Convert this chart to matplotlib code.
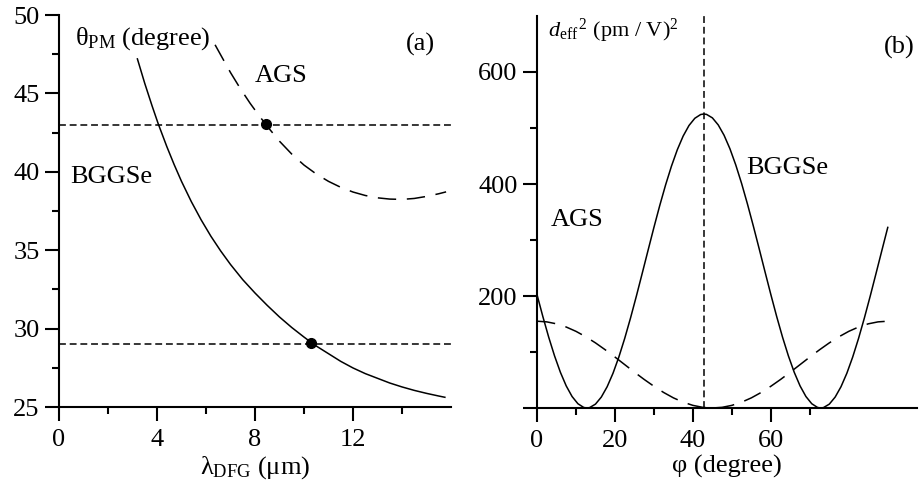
import matplotlib
matplotlib.use("Agg")
import matplotlib.pyplot as plt

plt.rcParams["font.family"] = ["Liberation Serif", "DejaVu Serif"]
plt.rcParams["mathtext.fontset"] = "custom"
plt.rcParams["mathtext.rm"] = "Liberation Serif"
plt.rcParams["mathtext.it"] = "Liberation Serif:italic"

# (a) phase-matching angle vs DFG wavelength
bggse_lam = [3.2, 3.5, 3.8, 4.05, 4.4, 4.7, 5.0, 5.4, 5.8, 6.2, 6.6, 7.0, 7.5,
             8.0, 8.5, 9.0, 9.5, 10.0, 10.3, 10.5, 11.0, 11.5, 12.0, 12.5, 13.0,
             13.5, 14.0, 14.5, 15.0, 15.5, 15.75]
bggse_theta = [47.2, 45.64, 44.2, 43.06, 41.61, 40.46, 39.39, 38.1, 36.94, 35.89,
               34.95, 34.09, 33.12, 32.27, 31.48, 30.74, 30.07, 29.46, 29.11,
               28.89, 28.4, 27.91, 27.49, 27.13, 26.83, 26.53, 26.28, 26.06,
               25.87, 25.7, 25.62]
ags_lam = [6.37, 6.7, 7.0, 7.4, 7.8, 8.2, 8.43, 8.6, 9.0, 9.5, 10.0, 10.5, 11.0,
           11.5, 12.0, 12.5, 13.0, 13.5, 14.0, 14.5, 15.0, 15.5, 15.8]
ags_theta = [48.1, 47.17, 46.33, 45.31, 44.37, 43.51, 43.05, 42.71, 41.95,
             41.13, 40.43, 39.86, 39.39, 39.01, 38.71, 38.49, 38.34, 38.26,
             38.24, 38.3, 38.43, 38.6, 38.72]
theta_lines = [43.0, 29.0]
dot_lam = [8.43, 10.3]
dot_theta = [43.05, 29.11]

# (b) d_eff^2 vs azimuth angle
phi_b = [0, 1.5, 3, 4.5, 6, 7.5, 9, 10.5, 12, 12.8, 13.5, 15, 16.5, 18, 19.5,
         21, 22.5, 24, 25.5, 27, 28.5, 30, 31.5, 33, 34.5, 36, 37.5, 39, 40.5,
         42, 42.8, 43.5, 45, 46.5, 48, 49.5, 51, 52.5, 54, 55.5, 57, 58.5, 60,
         61.5, 63, 64.5, 66, 67.5, 69, 70.5, 72, 72.8, 73.5, 75, 76.5, 78, 79.5,
         81, 82.5, 84, 85.5, 87, 88.5, 90]
bggse_d2 = [202.5, 163.3, 126.5, 93.1, 63.8, 39.4, 20.5, 7.6, 0.9, 0.0, 0.7,
            6.9, 19.5, 38.0, 62.0, 91.0, 124.2, 160.8, 199.9, 240.6, 281.7,
            322.5, 361.7, 398.5, 431.9, 461.2, 485.6, 504.5, 517.4, 524.1,
            525.0, 524.3, 518.1, 505.5, 487.0, 463.0, 434.0, 400.9, 364.2,
            325.1, 284.5, 243.3, 202.6, 163.3, 126.5, 93.1, 63.8, 39.4, 20.5,
            7.6, 0.9, 0.0, 0.7, 6.9, 19.5, 38.0, 62.0, 91.0, 124.2, 160.8,
            199.9, 240.6, 281.7, 322.5]
phi_a = [0, 2.5, 5, 7.5, 10, 12.5, 15, 17.5, 20, 22.5, 25, 27.5, 30, 32.5, 35,
         37.5, 40, 42.5, 45, 47.5, 50, 52.5, 55, 57.5, 60, 62.5, 65, 67.5, 70,
         72.5, 75, 77.5, 80, 82.5, 85, 87.5, 90]
ags_d2 = [155.0, 153.8, 150.3, 144.6, 136.9, 127.3, 116.3, 104.0, 91.0, 77.5,
          64.0, 51.0, 38.8, 27.7, 18.1, 10.4, 4.7, 1.2, 0.0, 1.2, 4.7, 10.4,
          18.1, 27.7, 38.8, 51.0, 64.0, 77.5, 91.0, 104.0, 116.3, 127.3, 136.9,
          144.6, 150.3, 153.8, 155.0]
phi_peak = 42.8

fs = 19
lw = 1.1

fig = plt.figure(figsize=(9.19, 4.86), dpi=100)
ax1 = fig.add_axes([59 / 919, 79 / 486, 392 / 919, 392 / 486])
ax2 = fig.add_axes([537 / 919, 78 / 486, 380 / 919, 392 / 486])

for ax in (ax1, ax2):
    ax.spines["top"].set_visible(False)
    ax.spines["right"].set_visible(False)
    for s in ("left", "bottom"):
        ax.spines[s].set_linewidth(1.5)
    ax.tick_params(which="major", length=10, width=1.5, labelsize=fs, pad=4)
    ax.tick_params(which="minor", length=5, width=1.5)
    ax.tick_params(axis="x", which="major", pad=6)

# panel (a)
ax1.plot(bggse_lam, bggse_theta, color="black", lw=lw)
ax1.plot(ags_lam, ags_theta, color="black", lw=lw, dashes=(12, 7))
for t in theta_lines:
    ax1.axhline(t, color="black", lw=lw, dashes=(4.5, 2.5))
ax1.plot(dot_lam, dot_theta, "o", color="black", ms=7)
ax1.set_xlim(0, 16)
ax1.set_ylim(25, 50)
ax1.set_xticks([0, 4, 8, 12])
ax1.set_xticks([2, 6, 10, 14], minor=True)
ax1.set_yticks([25, 30, 35, 40, 45, 50])
ax1.set_yticks([27.5, 32.5, 37.5, 42.5, 47.5], minor=True)
ax1.text(0.65, 48.5, r"$\mathrm{θ}_{\mathrm{PM}}$ (degree)", fontsize=fs, va="center")
ax1.text(15.35, 48.1, "(a)", fontsize=fs, va="center", ha="right")
ax1.text(8.0, 46.1, "AGS", fontsize=fs, va="center")
ax1.text(0.45, 39.7, "BGGSe", fontsize=fs, va="center")
ax1.set_xlabel(r"$\mathrm{λ}_{\mathrm{DFG}}$ (μm)", fontsize=fs, labelpad=2)

# panel (b)
ax2.plot(phi_b, bggse_d2, color="black", lw=lw, clip_on=False)
ax2.plot(phi_a, ags_d2, color="black", lw=lw, dashes=(12, 7), clip_on=False)
ax2.axvline(phi_peak, color="black", lw=lw, dashes=(4.5, 2.5))
ax2.set_xlim(0, 97.5)
ax2.set_ylim(0, 700)
ax2.set_xticks([0, 20, 40, 60])
ax2.set_xticks([10, 30, 50, 70], minor=True)
ax2.set_yticks([0, 200, 400, 600])
ax2.set_yticklabels(["", "200", "400", "600"])
ax2.set_yticks([100, 300, 500], minor=True)
ax2.text(2.8, 673, r"$d_{\mathrm{eff}}{}^{\,2}$ (pm / V)$^{2}$", fontsize=16, va="center")
ax2.text(96.9, 643, "(b)", fontsize=fs, va="center", ha="right")
ax2.text(53.8, 428, "BGGSe", fontsize=fs, va="center")
ax2.text(3.6, 336, "AGS", fontsize=fs, va="center")
ax2.set_xlabel("φ (degree)", fontsize=fs, labelpad=2)

fig.savefig("out.png", dpi=100)
